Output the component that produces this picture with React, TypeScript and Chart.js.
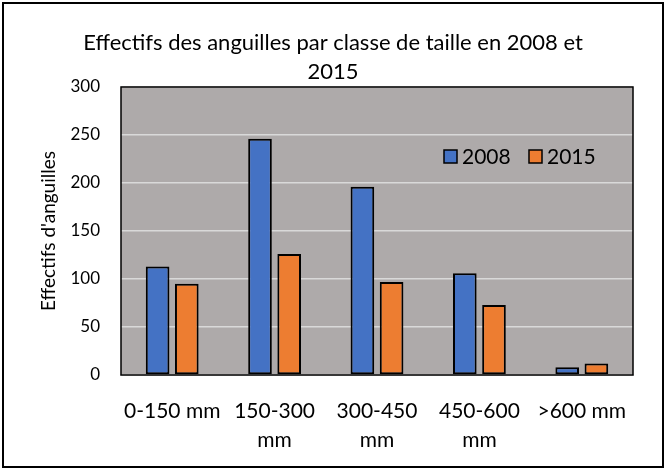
import { useEffect, useRef } from "react";
import { Chart, registerables } from "chart.js";

Chart.register(...registerables);

const categories: string[][] = [
  ["0-150 mm"],
  ["150-300", "mm"],
  ["300-450", "mm"],
  ["450-600", "mm"],
  [">600 mm"],
];
const seriesNames = ["2008", "2015"];
const values2008 = [113, 246, 196, 106, 8];
const values2015 = [95, 126, 97, 73, 12];
const yMin = 0;
const yMax = 300;
const yStep = 50;
const titleLines = ["Effectifs des anguilles par classe de taille en 2008 et", "2015"];
const yAxisTitle = "Effectifs d'anguilles";

const FONT = "Lato";
const BLUE = "#4472C4";
const ORANGE = "#ED7D31";
const TITLE_TARGET_WIDTH = 500;

const decorPlugin = {
  id: "decor",
  beforeDraw(chart: any) {
    const { ctx, chartArea: a, width, height } = chart;
    ctx.save();
    ctx.fillStyle = "#ffffff";
    ctx.fillRect(0, 0, width, height);
    ctx.fillStyle = "#AEAAAA";
    ctx.fillRect(a.left, a.top, a.right - a.left, a.bottom - a.top);
    ctx.restore();
  },
  afterDraw(chart: any) {
    const { ctx, chartArea: a, width, height } = chart;
    ctx.save();
    // plot area border
    ctx.strokeStyle = "#000000";
    ctx.lineWidth = 1.5;
    ctx.strokeRect(a.left, a.top, a.right - a.left, a.bottom - a.top);
    // outer border
    ctx.lineWidth = 2;
    ctx.strokeRect(3, 3, width - 6, height - 5);
    // title (size fitted to the reference width)
    ctx.font = `21px ${FONT}`;
    const w = ctx.measureText(titleLines[0]).width;
    const size = Math.max(18, Math.min(24, (21 * TITLE_TARGET_WIDTH) / w));
    ctx.fillStyle = "#000000";
    ctx.font = `${size}px ${FONT}`;
    ctx.textAlign = "center";
    ctx.textBaseline = "alphabetic";
    const cx = width / 2;
    ctx.fillText(titleLines[0], cx, 50);
    ctx.fillText(titleLines[1], cx, 79);
    // legend
    ctx.font = `21px ${FONT}`;
    ctx.textAlign = "left";
    ctx.textBaseline = "middle";
    const datasets = chart.data.datasets;
    const lx = [a.left + 323, a.left + 408];
    const ly = a.top + 69;
    datasets.forEach((ds: any, i: number) => {
      ctx.fillStyle = ds.backgroundColor;
      ctx.fillRect(lx[i], ly - 6, 13, 13);
      ctx.strokeStyle = "#000000";
      ctx.lineWidth = 1.5;
      ctx.strokeRect(lx[i], ly - 6, 13, 13);
      ctx.fillStyle = "#000000";
      ctx.fillText(ds.label, lx[i] + 18, ly + 1);
    });
    ctx.restore();
  },
};

export default function App() {
  const ref = useRef<HTMLCanvasElement | null>(null);
  useEffect(() => {
    document.body.style.margin = "0";
    const canvas = ref.current!;
    const chart = new Chart(canvas, {
      type: "bar",
      data: {
        labels: categories,
        datasets: [
          {
            label: seriesNames[0],
            data: values2008,
            backgroundColor: BLUE,
            borderColor: "#000000",
            borderWidth: 2,
            borderSkipped: false,
          },
          {
            label: seriesNames[1],
            data: values2015,
            backgroundColor: ORANGE,
            borderColor: "#000000",
            borderWidth: 2,
            borderSkipped: false,
          },
        ],
      },
      options: {
        responsive: false,
        animation: false,
        devicePixelRatio: 1,
        layout: { padding: { top: 87, right: 33, left: 0, bottom: 0 } },
        datasets: { bar: { categoryPercentage: 0.57, barPercentage: 0.81 } },
        plugins: {
          legend: { display: false },
          title: { display: false },
          tooltip: { enabled: false },
        },
        scales: {
          x: {
            grid: { display: false, drawTicks: false },
            border: { display: true, color: "#D9D9D9", width: 1.5 },
            ticks: {
              color: "#000000",
              font: { family: FONT, size: 21, lineHeight: 1.42 },
              maxRotation: 0,
              autoSkip: false,
              padding: 21,
            },
            afterFit(scale: any) {
              scale.height = 94;
            },
          },
          y: {
            min: yMin,
            max: yMax,
            grid: { color: "#D9D9D9", lineWidth: 1.5, drawTicks: false },
            border: { display: false },
            ticks: {
              stepSize: yStep,
              color: "#000000",
              font: { family: FONT, size: 17 },
              padding: 21,
            },
            title: {
              display: true,
              text: yAxisTitle,
              color: "#000000",
              font: { family: FONT, size: 19, lineHeight: 1.2 },
              padding: { top: 37, bottom: 0 },
            },
            afterFit(scale: any) {
              scale.width = 121;
            },
          },
        },
      },
      plugins: [decorPlugin],
    });
    return () => chart.destroy();
  }, []);
  return (
    <div style={{ width: 666, height: 469 }}>
      <canvas ref={ref} width={666} height={469} style={{ display: "block" }} />
    </div>
  );
}
